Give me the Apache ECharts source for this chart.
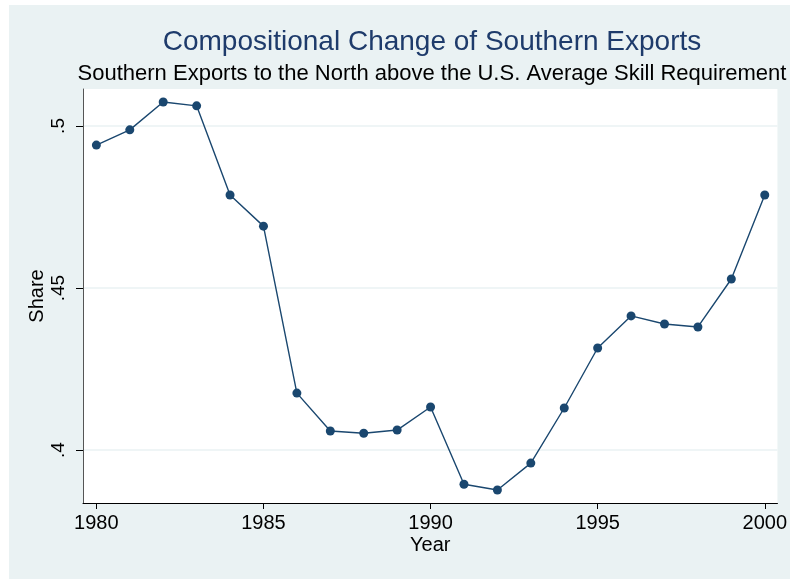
<!DOCTYPE html>
<html>
<head>
<meta charset="utf-8">
<script src="https://cdn.jsdelivr.net/npm/echarts@6/dist/echarts.min.js"></script>
<style>
html,body{margin:0;padding:0;background:#fff;}
#c{width:790px;height:579px;}
</style>
</head>
<body>
<div id="c"></div>
<script>
const years = [1980,1981,1982,1983,1984,1985,1986,1987,1988,1989,1990,1991,1992,1993,1994,1995,1996,1997,1998,1999,2000];
const share = [0.4941,0.4988,0.5074,0.5062,0.4787,0.4691,0.4176,0.4059,0.4052,0.4062,0.4133,0.3895,0.3877,0.3960,0.4130,0.4315,0.4414,0.4389,0.4380,0.4528,0.4787];
const xTicks = [1980,1985,1990,1995,2000];
const yTicks = [0.4,0.45,0.5];
const titleText = 'Compositional Change of Southern Exports';
const subtitleText = 'Southern Exports to the North above the U.S. Average Skill Requirement';

const chart = echarts.init(document.getElementById('c'), null, {renderer:'canvas'});
const font = 'Arial, "Liberation Sans", Helvetica, sans-serif';
const navy = '#1a476f';
chart.setOption({
  backgroundColor: '#ffffff',
  animation: false,
  graphic: [{
    type: 'rect', left: 9, top: 5, z: -10, silent: true,
    shape: {width: 781, height: 574},
    style: {fill: '#eaf2f3'}
  }],
  title: [{
    text: titleText,
    left: 427, top: 23, textAlign: 'center',
    textStyle: {fontFamily: font, fontSize: 28, fontWeight: 'normal', color: '#1e3b6b'}
  },{
    text: subtitleText,
    left: 427, top: 58, textAlign: 'center',
    textStyle: {fontFamily: font, fontSize: 22, fontWeight: 'normal', color: '#000'}
  }],
  grid: {
    left: 83, right: 8, top: 89, bottom: 76,
    show: true, backgroundColor: '#ffffff', borderWidth: 0
  },
  xAxis: {
    type: 'value', min: 1979.6, max: 2000.38,
    name: 'Year', nameLocation: 'middle', nameGap: 32, nameMoveOverlap: false,
    nameTextStyle: {fontFamily: font, fontSize: 20, color: '#000'},
    axisLine: {show: true, onZero: false, lineStyle: {color: '#000', width: 1}},
    axisTick: {show: true, length: 6, customValues: xTicks, lineStyle: {color: '#000'}},
    axisLabel: {customValues: xTicks, margin: 10, fontFamily: font, fontSize: 20, color: '#000', formatter: v => String(v)},
    splitLine: {show: false}
  },
  yAxis: {
    type: 'value', min: 0.3837, max: 0.5114,
    name: 'Share', nameLocation: 'middle', nameGap: 36, nameRotate: 90, nameMoveOverlap: false,
    nameTextStyle: {fontFamily: font, fontSize: 20, color: '#000'},
    axisLine: {show: true, onZero: false, lineStyle: {color: '#555', width: 1}},
    axisTick: {show: true, length: 7, customValues: yTicks, lineStyle: {color: '#000'}},
    axisLabel: {customValues: yTicks, rotate: 90, margin: 15, fontFamily: font, fontSize: 19, color: '#000',
      formatter: v => String(+v.toFixed(2)).replace(/^0/, '')},
    splitLine: {show: true, customValues: yTicks, lineStyle: {color: '#eaf2f3', width: 1.5}}
  },
  series: [{
    type: 'line',
    data: years.map((y,i) => [y, share[i]]),
    symbol: 'circle', symbolSize: 9,
    itemStyle: {color: navy},
    lineStyle: {color: navy, width: 1.4}
  }]
});
</script>
</body>
</html>
